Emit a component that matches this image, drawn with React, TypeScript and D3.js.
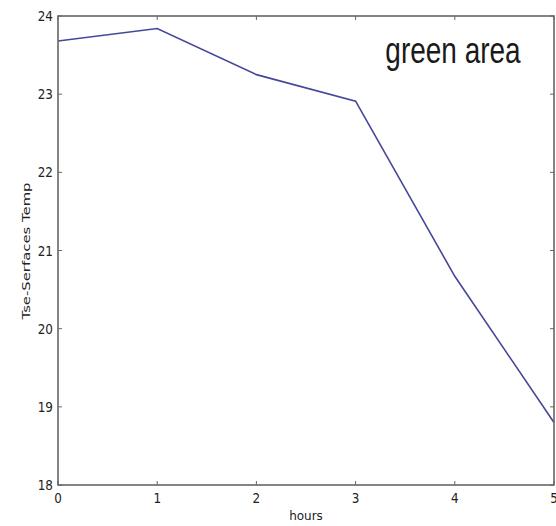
import React from "react";
import * as d3 from "d3";

const hours = [0, 1, 2, 3, 4, 5];
const temps = [23.68, 23.84, 23.25, 22.91, 20.67, 18.8];
const xTicks = [0, 1, 2, 3, 4, 5];
const yTicks = [18, 19, 20, 21, 22, 23, 24];
const title = "green area";
const xLabel = "hours";
const yLabel = "Tse-Serfaces Temp";

const W = 556;
const H = 526;
const M = { left: 58, right: 554, top: 16, bottom: 485 };

export default function App() {
  const x = d3.scaleLinear().domain([0, 5]).range([M.left, M.right]);
  const y = d3.scaleLinear().domain([18, 24]).range([M.bottom, M.top]);
  const line = d3
    .line<number>()
    .x((_, i) => x(hours[i]))
    .y((d) => y(d));
  const font = "DejaVu Sans, sans-serif";
  const axisColor = "#666";
  return (
    <svg
      width={W}
      height={H}
      style={{ position: "absolute", left: 0, top: 0, background: "#fff" }}
    >
      <path d={line(temps) || ""} fill="none" stroke="#45479a" strokeWidth={1.6} />
      <rect
        x={M.left}
        y={M.top}
        width={M.right - M.left}
        height={M.bottom - M.top}
        fill="none"
        stroke={axisColor}
        strokeWidth={1.6}
      />
      {xTicks.map((t) => (
        <g key={"x" + t}>
          <line x1={x(t)} x2={x(t)} y1={M.bottom} y2={M.bottom - 4} stroke={axisColor} />
          <line x1={x(t)} x2={x(t)} y1={M.top} y2={M.top + 4} stroke={axisColor} />
          <text
            transform={`translate(${x(t)},503) scale(1,1.2)`}
            textAnchor="middle"
            fontFamily={font}
            fontSize={12}
            fill="#222"
          >
            {t}
          </text>
        </g>
      ))}
      {yTicks.map((t) => (
        <g key={"y" + t}>
          <line x1={M.left} x2={M.left + 4} y1={y(t)} y2={y(t)} stroke={axisColor} />
          <line x1={M.right} x2={M.right - 4} y1={y(t)} y2={y(t)} stroke={axisColor} />
          <text
            transform={`translate(53,${y(t) + 5}) scale(1,1.2)`}
            textAnchor="end"
            fontFamily={font}
            fontSize={12}
            fill="#222"
          >
            {t}
          </text>
        </g>
      ))}
      <text
        transform="translate(306,520)"
        textAnchor="middle"
        fontFamily={font}
        fontSize={12}
        fill="#222"
      >
        {xLabel}
      </text>
      <text
        transform="translate(30,251) scale(1,1.35) rotate(-90)"
        textAnchor="middle"
        fontFamily={font}
        fontSize={11}
        fill="#222"
      >
        {yLabel}
      </text>
      <text
        transform="translate(453,63) scale(1,1.32)"
        textAnchor="middle"
        fontFamily="Liberation Sans, Arial, sans-serif"
        fontSize={28}
        fill="#1a1a1a"
      >
        {title}
      </text>
    </svg>
  );
}
